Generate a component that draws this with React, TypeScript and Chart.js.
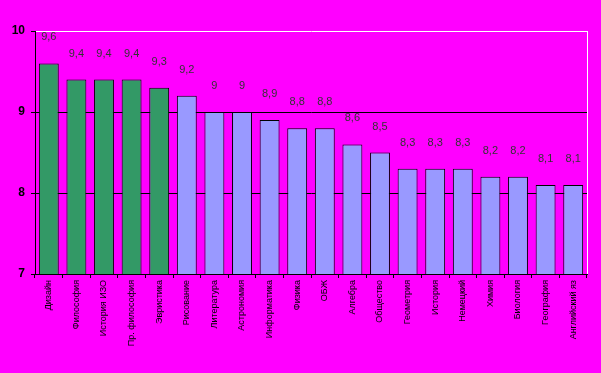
import React, { useEffect, useRef } from "react";
import { Chart, registerables } from "chart.js";

Chart.register(...registerables);

const categories = [
  "Дизайн",
  "Философия",
  "История ИЗО",
  "Пр. философия",
  "Эвристика",
  "Рисование",
  "Литература",
  "Астрономия",
  "Информатика",
  "Физика",
  "ОБЖ",
  "Алгебра",
  "Общество",
  "Геометрия",
  "История",
  "Немецкий",
  "Химия",
  "Биология",
  "География",
  "Английский яз",
];

const values = [9.6, 9.4, 9.4, 9.4, 9.3, 9.2, 9, 9, 8.9, 8.8, 8.8, 8.6, 8.5, 8.3, 8.3, 8.3, 8.2, 8.2, 8.1, 8.1];

const highlightCount = 5;
const yTicks = [7, 8, 9, 10];

const valueLabels = {
  id: "valueLabels",
  afterDatasetsDraw(chart: any) {
    const ctx = chart.ctx;
    const meta = chart.getDatasetMeta(0);
    ctx.save();
    ctx.font = "11px 'Liberation Sans', Arial, sans-serif";
    ctx.fillStyle = "#333333";
    ctx.textAlign = "center";
    ctx.textBaseline = "middle";
    meta.data.forEach((el: any, i: number) => {
      const txt = String(values[i]).replace(".", ",");
      ctx.fillText(txt, el.x, el.y - 26);
    });
    ctx.restore();
  },
  afterDraw(chart: any) {
    const { ctx, chartArea } = chart;
    ctx.save();
    ctx.strokeStyle = "#ffffff";
    ctx.lineWidth = 1;
    ctx.beginPath();
    ctx.moveTo(Math.round(chartArea.right) + 0.5, chartArea.top);
    ctx.lineTo(Math.round(chartArea.right) + 0.5, chartArea.bottom);
    ctx.stroke();
    ctx.restore();
  },
};

const bgPlugin = {
  id: "bgFill",
  beforeDraw(chart: any) {
    const ctx = chart.ctx;
    ctx.save();
    ctx.fillStyle = "#ff00ff";
    ctx.fillRect(0, 0, chart.width, chart.height);
    ctx.restore();
  },
};

export default function App() {
  const ref = useRef<HTMLCanvasElement | null>(null);

  useEffect(() => {
    document.body.style.margin = "0";
    document.body.style.background = "#ff00ff";
    if (!ref.current) return;
    const chart = new Chart(ref.current, {
      type: "bar",
      data: {
        labels: categories,
        datasets: [
          {
            data: values,
            backgroundColor: values.map((_, i) => (i < highlightCount ? "#339966" : "#9999ff")),
            borderColor: "#000000",
            borderWidth: 1,
            barPercentage: 0.72,
            categoryPercentage: 1,
          },
        ],
      },
      options: {
        responsive: false,
        animation: false,
        layout: { padding: { top: 31, right: 14, left: 0, bottom: 0 } },
        plugins: {
          legend: { display: false },
          tooltip: { enabled: false },
        },
        scales: {
          x: {
            offset: true,
            grid: {
              offset: true,
              drawOnChartArea: false,
              drawTicks: true,
              tickLength: 4,
              tickColor: "#000000",
            },
            border: { color: "#000000", width: 1 },
            ticks: {
              autoSkip: false,
              maxRotation: 90,
              minRotation: 90,
              padding: 2,
              color: "#000000",
              font: { family: "'Liberation Sans', Arial, sans-serif", size: 9 },
            },
            afterFit(scale: any) {
              scale.height = 99;
            },
          },
          y: {
            min: 7,
            max: 10,
            afterBuildTicks(scale: any) {
              scale.ticks = yTicks.map((v) => ({ value: v }));
            },
            grid: {
              color: (c: any) => (c.tick && c.tick.value === 10 ? "#ffffff" : "#000000"),
              lineWidth: 1,
              tickLength: 4,
              tickColor: "#000000",
            },
            border: { color: "#000000", width: 1 },
            ticks: {
              padding: 6,
              color: "#000000",
              font: { family: "'Liberation Sans', Arial, sans-serif", size: 12, weight: "bold" },
            },
            afterFit(scale: any) {
              scale.width = 35;
            },
          },
        },
      },
      plugins: [bgPlugin, valueLabels],
    });
    return () => chart.destroy();
  }, []);

  return (
    <div style={{ width: 601, height: 373, background: "#ff00ff" }}>
      <canvas ref={ref} width={601} height={373} style={{ display: "block" }} />
    </div>
  );
}
